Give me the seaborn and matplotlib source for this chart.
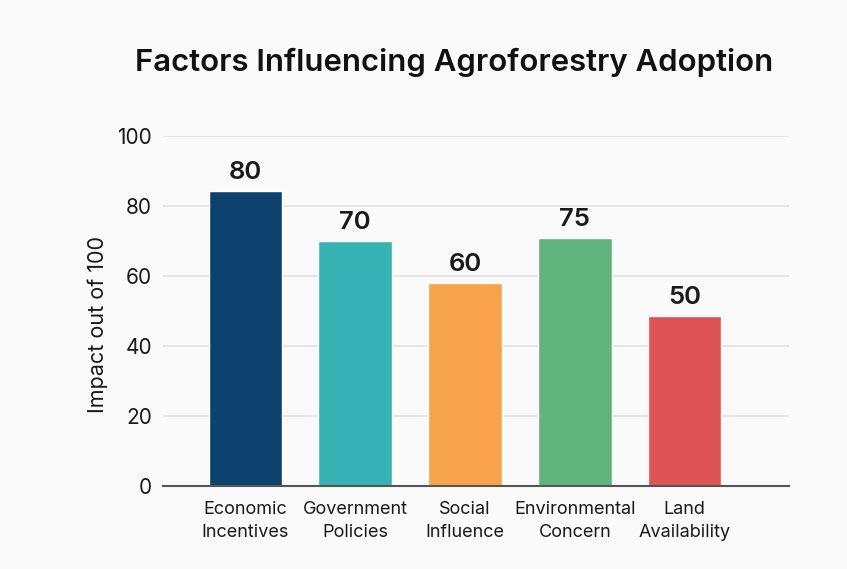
import matplotlib
matplotlib.use("Agg")
import matplotlib.pyplot as plt
import seaborn as sns
import pandas as pd

categories = ["Economic\nIncentives", "Government\nPolicies", "Social\nInfluence",
              "Environmental\nConcern", "Land\nAvailability"]
heights = [84.3, 69.9, 58.0, 70.8, 48.5]
value_labels = ["80", "70", "60", "75", "50"]
colors = ["#0C426D", "#37B3B6", "#F7A34C", "#62B47F", "#E05354"]
yticks = [0, 20, 40, 60, 80, 100]

sns.set_theme(style="white")
plt.rcParams["font.family"] = ["Inter", "DejaVu Sans"]

df = pd.DataFrame({"factor": categories, "impact": heights})

fig = plt.figure(figsize=(8.47, 5.69), dpi=100)
bg = "#FAFAFA"
fig.patch.set_facecolor(bg)
ax = fig.add_axes([163/847, 1-485.7/569, 626/847, 350/569])
ax.set_facecolor(bg)

sns.barplot(data=df, x="factor", y="impact", hue="factor", palette=colors,
            legend=False, width=0.67, ax=ax, saturation=1)

ax.set_xlim(-0.75, 4.95)
ax.set_ylim(0, 100)
ax.set_yticks(yticks)
ax.yaxis.grid(True, color="#E2E2E2", linewidth=1.2)
ax.set_axisbelow(True)
for s in ["left", "right", "top"]:
    ax.spines[s].set_visible(False)
ax.spines["bottom"].set_color("#555555")
ax.spines["bottom"].set_linewidth(1.5)
ax.tick_params(axis="y", length=0, pad=8, labelsize=15, labelcolor="#1a1a1a")
ax.tick_params(axis="x", length=0, pad=11, labelsize=13, labelcolor="#1a1a1a")
for t in ax.get_xticklabels():
    t.set_linespacing(1.5)
ax.set_xlabel("")
ax.set_ylabel("Impact out of 100", fontsize=15.5, color="#1a1a1a")
ax.yaxis.set_label_coords(-0.088, 0.46)

for i, (p, lab) in enumerate(zip(ax.patches, value_labels)):
    ax.annotate(lab, (p.get_x() + p.get_width()/2, p.get_height()),
                xytext=(0, 5), textcoords="offset points", ha="center", va="bottom",
                fontsize=18.5, fontweight="semibold", color="#1a1a1a", annotation_clip=False)

fig.text(454.5/847, 1-62/569, "Factors Influencing Agroforestry Adoption",
         ha="center", va="center", fontsize=22.4, fontweight="semibold", color="#111111")

fig.savefig("out.png", dpi=100, facecolor=bg)
